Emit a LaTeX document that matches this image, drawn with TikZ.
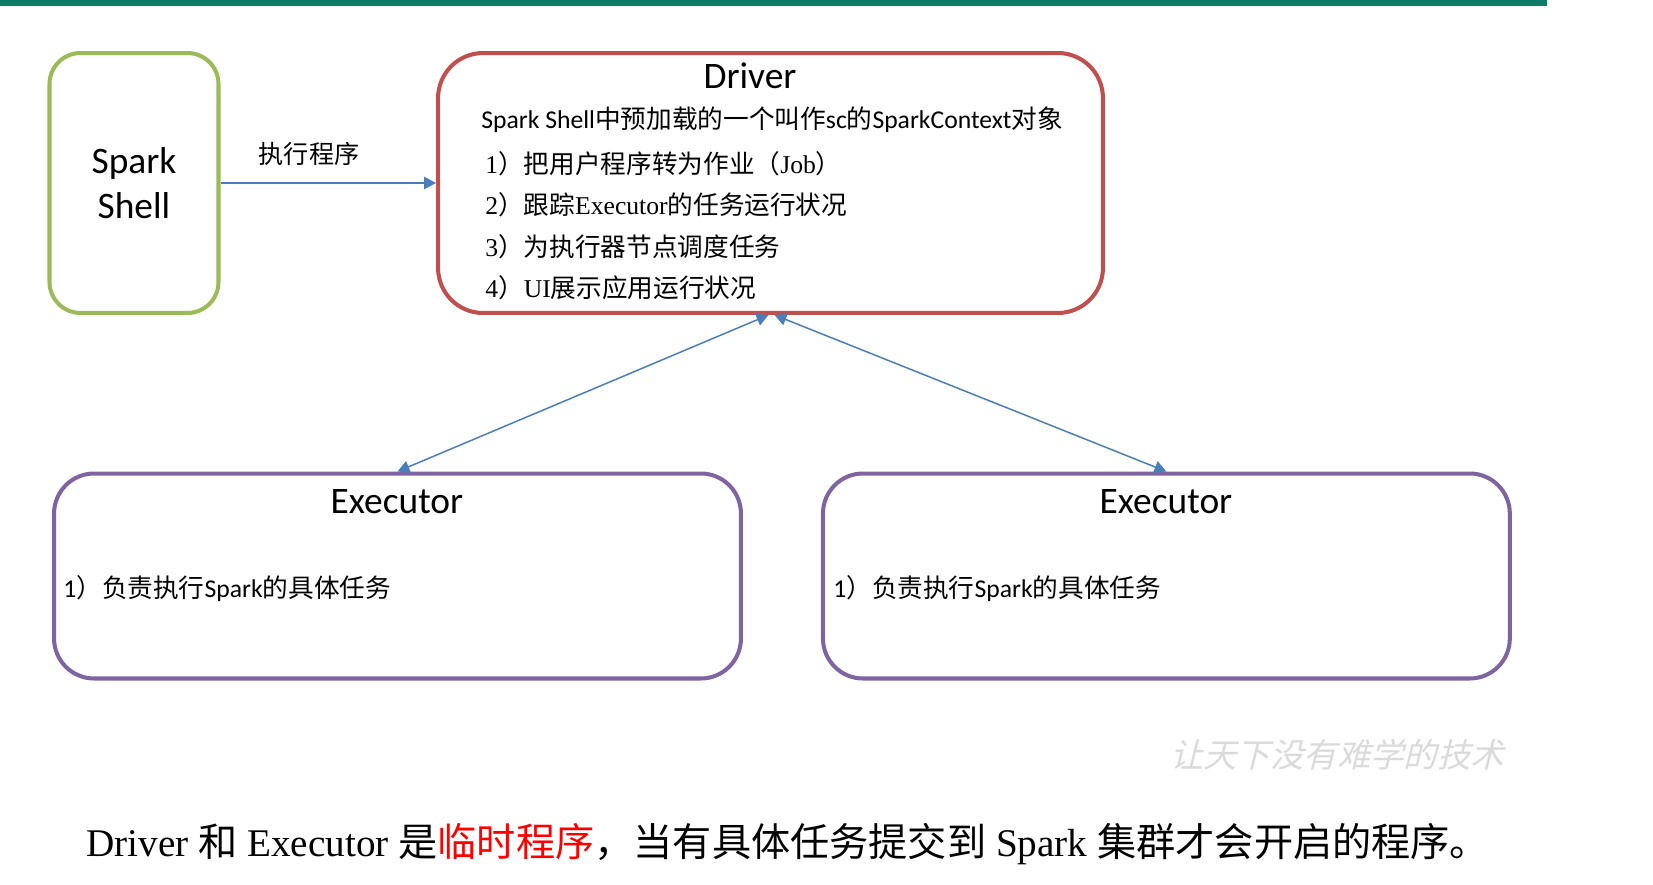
\documentclass[tikz,border=0pt]{standalone}
\usepackage{fontspec}
\setmainfont{Carlito}
\newfontfamily\cjk{Noto Sans CJK SC}
\newfontfamily\tms{Liberation Serif}
\newfontfamily\wmk[FakeSlant=0.25]{Noto Sans CJK SC}
\usetikzlibrary{arrows.meta,positioning}
\definecolor{Teal}{HTML}{0E7C66}
\definecolor{Green}{HTML}{9BBB59}
\definecolor{Red}{HTML}{C0504D}
\definecolor{Purple}{HTML}{8064A2}
\definecolor{Blue}{HTML}{4A7EBB}
\definecolor{Mark}{HTML}{DADADA}
\tikzset{
  shellbox/.style={rounded corners=.62cm,draw=Green,line width=2.3pt,minimum width=3.38cm,
    minimum height=5.2cm,align=center,font=\fontsize{21.3}{25.5}\selectfont},
  drvbox/.style={rounded corners=.9cm,draw=Red,line width=2.3pt,minimum width=13.3cm,
    minimum height=5.2cm},
  exebox/.style={rounded corners=.8cm,draw=Purple,line width=2.3pt,minimum width=13.74cm,
    minimum height=4.1cm},
  title/.style={inner sep=0pt,font=\fontsize{21.3}{25}\selectfont},
  item/.style={anchor=west,inner sep=0pt,font=\fontsize{14.6}{17}\selectfont},
  link/.style={draw=Blue,line width=.85pt,-{Triangle[length=6.8pt,width=7pt]}},
  twolink/.style={link,{Triangle[length=6.8pt,width=7pt]}-{Triangle[length=6.8pt,width=7pt]}}
}
\begin{document}
\begin{tikzpicture}[x=.02cm,y=-.02cm,node distance=1.56cm]
        \useasboundingbox (0,0) rectangle (1653,885);
        \fill[Teal] (0,0) rectangle (1547,6);
        % boxes
        \node[shellbox] (shell) at (134,183) {Spark\\Shell};
        \node[drvbox] (drv) at (770.5,183) {};
        \node[exebox] (exe1) at (397.5,576) {};
        \node[exebox,right=of exe1] (exe2) {};
        % driver text
        \node[title] (drvtitle) at (750,76) {Driver};
        \node[item] (sc) at (481,120) {Spark Shell{\cjk 中预加载的一个叫作}sc{\cjk 的}SparkContext{\cjk 对象}};
        \node[item] (job1) at (485,164) {{\tms 1}{\cjk ）把用户程序转为作业（}{\tms Job}{\cjk ）}};
        \node[item] (job2) at (485,205) {{\tms 2}{\cjk ）跟踪}{\tms Executor}{\cjk 的任务运行状况}};
        \node[item] (job3) at (485,247) {{\tms 3}{\cjk ）为执行器节点调度任务}};
        \node[item] (job4) at (485,288) {{\tms 4}{\cjk ）}{\tms UI}{\cjk 展示应用运行状况}};
        % executor text
        \node[title] (exe1title) at (397,502) {Executor};
        \node[item] (exe1task) at (63,589) {1{\cjk ）负责执行}Spark{\cjk 的具体任务}};
        \node[title] (exe2title) at (1166,502) {Executor};
        \node[item] (exe2task) at (833,589) {1{\cjk ）负责执行}Spark{\cjk 的具体任务}};
        % connectors
        \draw[link] (shell) -- (drv);
        \node[font=\cjk\fontsize{14.3}{17}\selectfont] (run) at (309,154) {执行程序};
        \draw[twolink] ([xshift=-.04cm]drv.south) -- (exe1.north);
        \draw[twolink] ([xshift=.08cm]drv.south) -- (exe2.north);
        % footer
        \node[font=\wmk\fontsize{19}{22}\selectfont,text=Mark] (motto) at (1337,755) {让天下没有难学的技术};
        \node[anchor=west,inner sep=0pt,font=\tms\fontsize{22.3}{26}\selectfont] (note) at (86,844)
          {Driver {\cjk 和} Executor {\cjk 是}{\cjk\color{red}临时程序}{\cjk ，当有具体任务提交到} Spark {\cjk 集群才会开启的程序。}};
      \end{tikzpicture}
\end{document}
